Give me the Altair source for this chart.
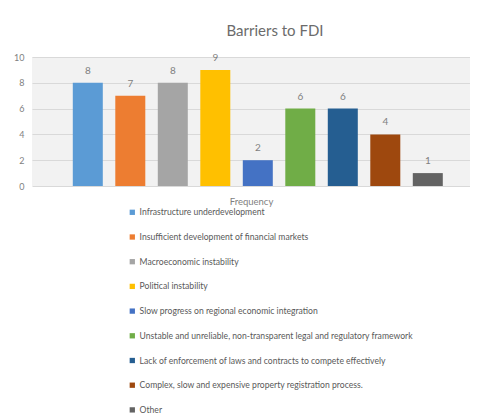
import altair as alt
import pandas as pd

barriers = [
    "Infrastructure underdevelopment",
    "Insufficient development of financial markets",
    "Macroeconomic instability",
    "Political instability",
    "Slow progress on regional economic integration",
    "Unstable and unreliable, non-transparent legal and regulatory framework",
    "Lack of enforcement of laws and contracts to compete effectively",
    "Complex, slow and expensive property registration process.",
    "Other",
]
frequency = [8, 7, 8, 9, 2, 6, 6, 4, 1]
colors = ["#5B9BD5", "#ED7D31", "#A5A5A5", "#FFC000", "#4472C4",
          "#70AD47", "#255E91", "#9E480E", "#636363"]
y_ticks = [0, 2, 4, 6, 8, 10]

df = pd.DataFrame({"Barrier": barriers, "Frequency": frequency})

FONT = "Lato"
GRAY = "#7f7f7f"

x = alt.X(
    "Barrier:N",
    sort=barriers,
    scale=alt.Scale(paddingInner=0.294, paddingOuter=0.8, align=0.6),
    axis=alt.Axis(labels=False, ticks=False, domain=False, grid=False,
                  title="Frequency", titleFont=FONT, titleFontSize=9.5,
                  titleFontWeight="normal", titleColor=GRAY, titlePadding=10),
)
y = alt.Y(
    "Frequency:Q",
    scale=alt.Scale(domain=[0, 10]),
    axis=alt.Axis(values=y_ticks, title=None, ticks=False, domain=False,
                  labelFont=FONT, labelFontSize=9, labelColor=GRAY,
                  labelOverlap=False, labelPadding=8,
                  gridColor="#d9d9d9", gridWidth=1),
)

bars = alt.Chart(df).mark_bar().encode(
    x=x,
    y=y,
    color=alt.Color(
        "Barrier:N",
        sort=barriers,
        scale=alt.Scale(domain=barriers, range=colors),
        legend=alt.Legend(
            title=None, orient="none", legendX=96, legendY=151,
            direction="vertical", symbolType="square", symbolSize=28,
            symbolStrokeWidth=0, labelFont=FONT, labelFontSize=8.6,
            labelColor="#595959", rowPadding=15.7, labelOffset=3,
            labelLimit=400,
        ),
    ),
)

labels = alt.Chart(df).mark_text(
    baseline="bottom", dy=-7, font=FONT, fontSize=10, color=GRAY
).encode(x=x, y=y, text="Frequency:Q")

chart = (
    alt.layer(bars, labels)
    .properties(
        width=438,
        height=129,
        padding={"left": 24, "top": 49, "right": 0, "bottom": 233},
        autosize=alt.AutoSizeParams(type="none"),
        title=alt.TitleParams(
            "Barriers to FDI", font=FONT, fontSize=15, fontWeight="normal",
            color="#6b6b6b", anchor="middle", dx=24, offset=14,
        ),
        background="white",
    )
    .configure_view(fill="#f2f2f2", stroke=None)
)

chart.save("out.html", embed_options={"renderer": "svg", "actions": False})
